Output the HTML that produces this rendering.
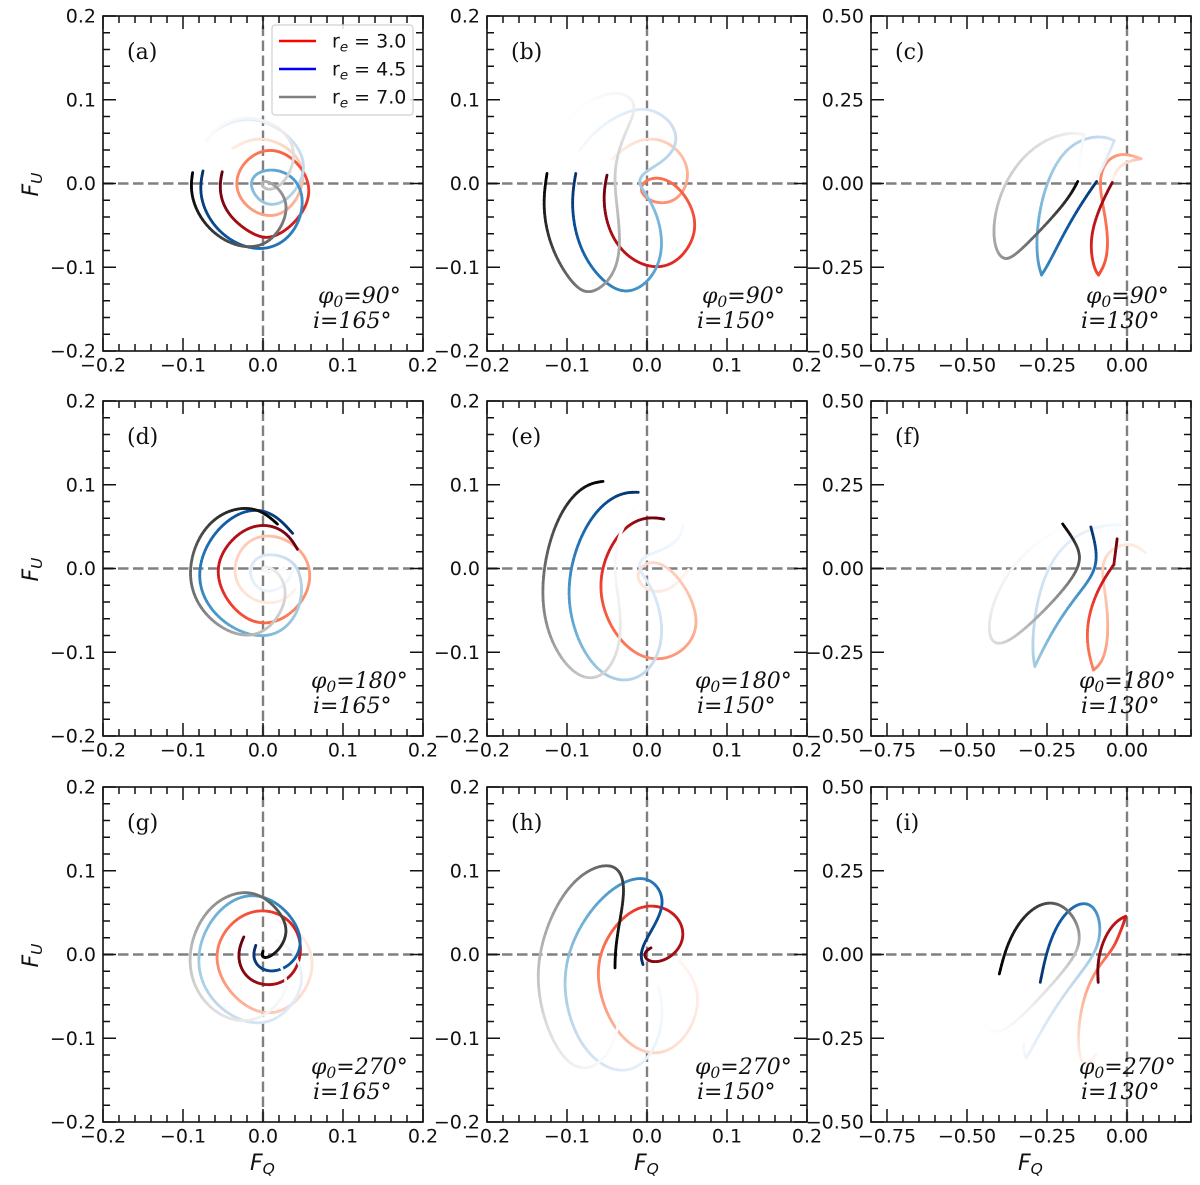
<!DOCTYPE html>
<html lang="en">
<head>
<meta charset="utf-8">
<title>Polarization loops FQ versus FU</title>
<style>
html,body{margin:0;padding:0;background:#fff;width:1200px;height:1185px;overflow:hidden}
svg{display:block}
text{fill:#111}
.tick{font-family:"DejaVu Sans","Liberation Sans",sans-serif;font-size:19px}
.axis{font-family:"DejaVu Sans","Liberation Sans",sans-serif;font-size:22px;font-style:italic}
.tag{font-family:"DejaVu Serif","Liberation Serif",serif;font-size:22px}
.note{font-family:"DejaVu Serif","Liberation Serif",serif;font-size:22px;font-style:italic}
.leg{font-family:"DejaVu Sans","Liberation Sans",sans-serif;font-size:19px}
</style>
</head>
<body>
<svg id="chart" xmlns="http://www.w3.org/2000/svg" width="1200" height="1185" viewBox="0 0 1200 1185"></svg>
<script>
// Each point: [F_Q, F_U, colormap position, optional 1 = sharp turn]
const a_re30=[[-.051,.014,1],[-.054,-.004,.97],[-.049,-.027,.93],[-.033,-.047,.88],[-.008,-.061,.82],[.005,-.064,.8],[.025,-.058,.76],[.046,-.039,.7],[.057,-.016,.64],[.055,.004,.6],[.042,.026,.55],[.021,.037,.51],[.005,.039,.48],[-.016,.032,.45],[-.031,.012,.41],[-.032,-.008,.38],[-.020,-.027,.35],[.005,-.040,.32],[.027,-.033,.29],[.044,-.016,.26],[.049,.008,.23],[.046,.024,.2],[.030,.044,.16],[0,.054,.12],[-.020,.050,.09],[-.038,.042,.05]];
const a_re45=[[-.075,.015,1],[-.079,-.008,.96],[-.070,-.035,.92],[-.049,-.063,.86],[-.012,-.078,.78],[.021,-.073,.73],[.044,-.047,.68],[.049,-.016,.63],[.038,.008,.58],[.009,.018,.52],[-.012,.008,.47],[-.014,-.004,.44],[-.004,-.020,.4],[.013,-.026,.36],[.034,-.016,.32],[.048,.008,.28],[.050,.028,.25],[.034,.056,.2],[0,.074,.14],[-.029,.077,.09],[-.062,.062,.04],[-.070,.052,.01]];
const a_re70=[[-.088,.013,1],[-.090,-.008,.97],[-.081,-.035,.9],[-.058,-.063,.8],[-.020,-.077,.72],[.009,-.069,.66],[.025,-.043,.6],[.030,-.023,.55],[.017,-.004,.48],[.002,.004,.42],[-.002,-.002,.38],[.007,-.008,.34],[.023,-.002,.3],[.036,.020,.25],[.038,.044,.2],[.023,.064,.14],[-.004,.076,.09],[-.029,.078,.06],[-.054,.070,.03],[-.072,.054,.01]];

const b_re30=[[-.050,.010,1],[-.054,-.012,.97],[-.051,-.043,.9],[-.038,-.071,.84],[-.017,-.091,.78],[.012,-.100,.72],[.037,-.093,.67],[.056,-.067,.62],[.060,-.045,.58],[.049,-.016,.54],[.029,.002,.5],[.010,.007,.47],[-.005,0,.44],[-.007,-.010,.42],[.004,-.020,.4],[.022,-.023,.37],[.041,-.016,.34],[.052,.008,.29],[.045,.032,.24],[.025,.048,.19],[.004,.053,.14],[-.021,.048,.1],[-.044,.029,.01]];
const b_re45=[[-.089,.012,1],[-.094,-.020,.95],[-.088,-.067,.85],[-.067,-.103,.75],[-.042,-.123,.68],[-.025,-.128,.64],[0,-.119,.58],[.016,-.091,.52],[.018,-.063,.48],[.010,-.031,.44],[-.002,-.012,.4],[-.010,0,.37],[-.005,.012,.34],[.012,.022,.31],[.031,.036,.28],[.037,.056,.24],[.027,.076,.2],[.004,.087,.16],[-.013,.088,.13],[-.042,.078,.08],[-.067,.060,.04],[-.084,.040,.01]];
const b_re70=[[-.125,.012,1],[-.130,-.023,.92],[-.123,-.067,.82],[-.104,-.103,.7],[-.084,-.125,.6],[-.071,-.129,.55],[-.046,-.115,.48],[-.036,-.087,.44],[-.034,-.055,.4],[-.040,-.008,.33],[-.040,.020,.28],[-.030,.056,.22],[-.017,.080,.16],[-.016,.096,.12],[-.030,.106,.08],[-.042,.107,.06],[-.067,.102,.03],[-.092,.084,.015],[-.109,.066,.005],[-.120,.048,0]];

const c_re30=[[-.046,.003,.95],[-.074,-.049,.87],[-.105,-.128,.78],[-.114,-.188,.7],[-.100,-.258,.62],[-.089,-.273,.58,1],[-.069,-.238,.55],[-.058,-.178,.5],[-.069,-.089,.47],[-.084,-.019,.43],[-.079,.041,.4],[-.043,.081,.36],[-.001,.087,.32],[.044,.074,.24,1],[-.001,.066,.14],[-.032,.041,.08],[-.045,.011,.01]];
const c_re45=[[-.095,.006,1],[-.126,-.039,.92],[-.189,-.128,.84],[-.241,-.238,.72],[-.267,-.273,.62,1],[-.280,-.228,.56],[-.280,-.128,.5],[-.256,-.019,.42],[-.209,.081,.34],[-.147,.128,.3],[-.074,.140,.24],[-.040,.128,.18,1],[-.064,.071,.1],[-.093,.021,.01]];
const c_re70=[[-.154,.006,1],[-.183,-.049,.85],[-.272,-.138,.7],[-.345,-.208,.58],[-.376,-.223,.52],[-.407,-.198,.46],[-.416,-.128,.42],[-.392,-.019,.32],[-.324,.081,.26],[-.241,.135,.2],[-.168,.150,.13],[-.134,.145,.08,1],[-.147,.081,.03],[-.152,.031,.005]];

const d_re30=[[.043,.023,1],[.030,.043,.96],[0,.053,.9],[-.029,.043,.84],[-.052,.015,.78],[-.056,-.009,.72],[-.043,-.041,.62],[-.016,-.061,.55],[.009,-.065,.48],[.042,-.049,.42],[.059,-.017,.36],[.054,.011,.32],[.034,.031,.27],[.007,.039,.22],[-.020,.033,.19],[-.034,.007,.16],[-.033,-.013,.13],[-.020,-.033,.1],[.007,-.043,.07],[.030,-.035,.04],[.040,-.025,.01]];
const d_re45=[[.037,.042,1],[.017,.062,.95],[-.008,.070,.9],[-.037,.062,.84],[-.066,.035,.78],[-.079,-.001,.72],[-.074,-.033,.65],[-.049,-.065,.56],[-.008,-.081,.48],[.021,-.075,.42],[.042,-.053,.37],[.049,-.025,.32],[.042,-.001,.27],[.034,.009,.22],[.009,.018,.17],[-.010,.011,.14],[-.016,-.005,.11],[-.008,-.023,.08],[.013,-.029,.05],[.034,-.013,.03],[.038,.003,.01]];
const d_re70=[[.018,.053,1],[0,.067,.95],[-.022,.072,.9],[-.054,.064,.84],[-.079,.039,.76],[-.091,-.001,.68],[-.085,-.033,.62],[-.062,-.065,.52],[-.025,-.080,.42],[0,-.075,.36],[.021,-.053,.3],[.029,-.029,.25],[.021,-.007,.18],[.005,.003,.12],[-.002,-.001,.08],[.009,-.007,.05],[.030,.001,.02]];

const e_re30=[[.021,.059,1],[.004,.061,.97],[-.017,.055,.9],[-.036,.039,.78],[-.052,.011,.7],[-.058,-.021,.6],[-.052,-.053,.54],[-.034,-.085,.48],[-.009,-.103,.42],[.012,-.107,.38],[.037,-.103,.34],[.056,-.083,.3],[.062,-.061,.26],[.052,-.029,.22],[.029,-.001,.18],[.010,.007,.15],[-.005,.003,.13],[-.012,-.009,.11],[-.005,-.021,.09],[.014,-.029,.07],[.035,-.021,.04],[.052,-.001,.01]];
const e_re45=[[-.011,.091,1],[-.030,.090,.96],[-.054,.076,.88],[-.079,.047,.78],[-.096,-.005,.66],[-.096,-.045,.56],[-.084,-.089,.46],[-.059,-.123,.38],[-.030,-.133,.32],[0,-.125,.26],[.016,-.093,.22],[.018,-.065,.19],[.010,-.033,.15],[0,-.013,.13],[-.011,-.001,.11],[-.005,.013,.08],[.008,.019,.06],[.033,.027,.04],[.043,.043,.02],[.045,.053,.005]];
const e_re70=[[-.055,.104,1],[-.073,.100,.95],[-.096,.082,.85],[-.119,.043,.75],[-.131,-.021,.62],[-.125,-.069,.52],[-.104,-.111,.4],[-.075,-.133,.32],[-.050,-.121,.26],[-.036,-.093,.2],[-.032,-.057,.14],[-.040,-.013,.09],[-.040,.019,.06],[-.030,.051,.03],[-.013,.074,.01],[-.005,.086,0]];

const f_re30=[[-.031,.087,1],[-.041,.012,.9,1],[-.074,-.038,.72],[-.116,-.122,.6],[-.128,-.222,.5],[-.105,-.303,.42,1],[-.074,-.277,.34],[-.055,-.182,.28],[-.069,-.063,.2],[-.079,-.003,.17],[-.058,.052,.13],[-.001,.072,.09],[.030,.065,.06],[.058,.047,.03]];
const f_re45=[[-.113,.124,1],[-.090,.027,.85],[-.116,-.033,.66],[-.189,-.112,.55],[-.251,-.222,.45],[-.288,-.292,.36,1],[-.296,-.242,.3],[-.282,-.102,.22],[-.241,.007,.16],[-.178,.087,.1],[-.084,.126,.05],[-.017,.131,.01]];
const f_re70=[[-.201,.133,1],[-.157,.067,.8],[-.149,.017,.72],[-.189,-.053,.56],[-.293,-.152,.42],[-.386,-.232,.28],[-.426,-.202,.2],[-.423,-.122,.14],[-.366,-.003,.08],[-.272,.087,.03],[-.157,.144,.005]];

const g_re30=[[-.024,.021,1],[-.031,.004,.97],[-.027,-.020,.94],[-.008,-.034,.9],[.013,-.035,.87],[.032,-.028,.84],[.045,-.008,.8],[.046,.020,.74],[.030,.043,.68],[0,.053,.6],[-.029,.045,.54],[-.052,.020,.47],[-.058,-.008,.4],[-.045,-.040,.33],[-.016,-.064,.26],[.013,-.070,.2],[.042,-.056,.15],[.061,-.024,.11],[.059,.004,.08],[.042,.031,.04],[.017,.041,.01]];
const g_re45=[[-.009,.011,1],[-.013,-.002,.97],[-.004,-.016,.94],[.013,-.020,.9],[.034,-.012,.85],[.046,.008,.8],[.044,.031,.74],[.021,.059,.68],[-.008,.070,.58],[-.037,.065,.52],[-.066,.039,.46],[-.081,0,.38],[-.074,-.036,.32],[-.049,-.068,.25],[-.008,-.083,.18],[.021,-.074,.14],[.046,-.044,.1],[.048,-.020,.07],[.034,.008,.04],[.017,.017,.01]];
const g_re70=[[0,.004,1],[-.002,-.002,.97],[.007,-.004,.94],[.021,.008,.88],[.030,.027,.82],[.023,.047,.76],[0,.068,.66],[-.022,.074,.6],[-.054,.065,.52],[-.079,.039,.46],[-.093,-.004,.36],[-.083,-.040,.28],[-.060,-.068,.22],[-.025,-.081,.16],[.005,-.070,.1],[.025,-.048,.06],[.030,-.028,.03],[.017,-.006,.01]];

const h_re30=[[.005,.008,1],[-.002,.004,.98],[-.002,-.006,.96],[.016,-.010,.92],[.037,.004,.86],[.046,.023,.82],[.037,.047,.77],[.012,.057,.7],[-.013,.055,.63],[-.038,.035,.55],[-.057,.004,.47],[-.061,-.028,.4],[-.052,-.064,.33],[-.034,-.096,.25],[-.009,-.112,.2],[.012,-.117,.15],[.041,-.108,.11],[.062,-.072,.07],[.062,-.044,.04],[.054,-.024,.02],[.041,-.008,.005]];
const h_re45=[[-.005,-.012,1],[-.009,.002,.97],[0,.020,.93],[.016,.047,.86],[.020,.067,.8],[.006,.087,.72],[-.013,.090,.66],[-.042,.079,.58],[-.075,.047,.5],[-.098,0,.42],[-.102,-.040,.35],[-.092,-.088,.26],[-.067,-.124,.18],[-.034,-.139,.12],[-.005,-.130,.08],[.014,-.100,.05],[.020,-.064,.02],[.014,-.038,.005]];
const h_re70=[[-.040,-.016,1],[-.040,.012,.97],[-.032,.051,.9],[-.028,.083,.82],[-.038,.101,.74],[-.052,.105,.68],[-.079,.097,.6],[-.109,.067,.5],[-.129,.016,.42],[-.137,-.028,.34],[-.127,-.080,.24],[-.104,-.124,.15],[-.079,-.136,.09],[-.054,-.124,.05],[-.038,-.096,.02],[-.032,-.060,.005]];

const i_re30=[[-.090,-.083,1],[-.092,-.031,.96],[-.074,.049,.88],[-.032,.099,.8],[-.004,.114,.74,1],[-.011,.089,.68],[-.032,.049,.62],[-.043,.014,.55],[-.084,-.031,.42],[-.126,-.100,.3],[-.152,-.210,.18],[-.147,-.309,.06],[-.126,-.329,.02],[-.097,-.298,.005]];
const i_re45=[[-.271,-.083,1],[-.246,.029,.9],[-.199,.118,.82],[-.136,.156,.72],[-.095,.128,.62],[-.086,.059,.5],[-.105,-.006,.35],[-.168,-.081,.26],[-.241,-.180,.16],[-.314,-.309,.05,1],[-.324,-.290,.02],[-.322,-.265,.005]];
const i_re70=[[-.399,-.058,1],[-.371,.049,.93],[-.303,.128,.84],[-.241,.156,.74],[-.178,.128,.62],[-.147,.049,.46],[-.168,-.011,.34],[-.251,-.100,.2],[-.345,-.200,.08],[-.413,-.240,.03],[-.449,-.205,.005]];

const curvesByPanel=[[a_re30,a_re45,a_re70],[b_re30,b_re45,b_re70],[c_re30,c_re45,c_re70],[d_re30,d_re45,d_re70],[e_re30,e_re45,e_re70],[f_re30,f_re45,f_re70],[g_re30,g_re45,g_re70],[h_re30,h_re45,h_re70],[i_re30,i_re45,i_re70]];
const panelTags=["(a)","(b)","(c)","(d)","(e)","(f)","(g)","(h)","(i)"];
const phaseLabels=["90","90","90","180","180","180","270","270","270"];
const inclinationLabels=["165","150","130","165","150","130","165","150","130"];
const seriesNames=["re-3-0","re-4-5","re-7-0"];
const legendValues=["3.0","4.5","7.0"];
const narrowXTicks=["−0.2","−0.1","0.0","0.1","0.2"];
const narrowYTicks=["−0.2","−0.1","0.0","0.1","0.2"];
const wideXTicks=["−0.75","−0.50","−0.25","0.00"];
const wideYTicks=["−0.50","−0.25","0.00","0.25","0.50"];

const REDS=["#fff5f0","#fee0d2","#fcbba1","#fc9272","#fb6a4a","#ef3b2c","#cb181d","#a50f15","#67000d"];
const BLUES=["#f7fbff","#deebf7","#c6dbef","#9ecae1","#6baed6","#4292c6","#2171b5","#08519c","#08306b"];
const GREYS=["#ffffff","#f0f0f0","#d9d9d9","#bdbdbd","#969696","#737373","#525252","#252525","#000000"];
const RAMPS=[REDS,BLUES,GREYS];
const LEGEND_COLORS=["#ff0000","#0000ff","#808080"];

const NS="http://www.w3.org/2000/svg";
const root=document.getElementById("chart");
function make(tag,attrs,parent){
  const n=document.createElementNS(NS,tag);
  for(const k in attrs){n.setAttribute(k,attrs[k]);}
  parent.appendChild(n);
  return n;
}
function hex(c){return [1,3,5].map(i=>parseInt(c.substr(i,2),16));}
function ramp(stops,t){
  const v=Math.max(0,Math.min(1,t))*(stops.length-1);
  const i=Math.min(stops.length-2,Math.floor(v));
  const f=v-i;
  const a=hex(stops[i]),b=hex(stops[i+1]);
  return "rgb("+a.map((x,k)=>Math.round(x+(b[k]-x)*f)).join(",")+")";
}
function catmull(p0,p1,p2,p3,t){
  return 0.5*((2*p1)+(-p0+p2)*t+(2*p0-5*p1+4*p2-p3)*t*t+(-p0+3*p1-3*p2+p3)*t*t*t);
}
function gaussian(v,sigma){
  const n=v.length,r=Math.ceil(sigma*3),out=new Array(n);
  const at=i=>{
    if(i<0){return 2*v[0]-v[Math.min(n-1,-i)];}
    if(i>=n){return 2*v[n-1]-v[Math.max(0,2*(n-1)-i)];}
    return v[i];
  };
  for(let i=0;i<n;i++){
    let sum=0,w=0;
    for(let k=-r;k<=r;k++){
      const g=Math.exp(-k*k/(2*sigma*sigma));
      sum+=g*at(i+k);w+=g;
    }
    out[i]=sum/w;
  }
  return out;
}
function fairen(v,sigma){
  const g1=gaussian(v,sigma),g2=gaussian(v,sigma*Math.SQRT2);
  return v.map((_,i)=>2*g1[i]-g2[i]);
}
const STEPS=8;
function densePiece(pts){
  const q=[],u=[],s=[];
  for(let k=0;k<pts.length-1;k++){
    const a=pts[Math.max(0,k-1)],b=pts[k],c=pts[k+1],d=pts[Math.min(pts.length-1,k+2)];
    for(let j=0;j<STEPS;j++){
      const t=j/STEPS;
      q.push(catmull(a[0],b[0],c[0],d[0],t));
      u.push(catmull(a[1],b[1],c[1],d[1],t));
      s.push(b[2]+(c[2]-b[2])*t);
    }
  }
  const last=pts[pts.length-1];
  q.push(last[0]);u.push(last[1]);s.push(last[2]);
  const sigma=0.85*STEPS;
  return {q:fairen(q,sigma),u:fairen(u,sigma),s:s};
}
function densePath(pts){
  const out={q:[],u:[],s:[]};
  let start=0;
  for(let k=1;k<pts.length;k++){
    if(pts[k][3]===1||k===pts.length-1){
      const piece=densePiece(pts.slice(start,k+1));
      out.q.push(...piece.q);out.u.push(...piece.u);out.s.push(...piece.s);
      start=k;
    }
  }
  return out;
}
function drawPanel(index){
  const col=index%3,row=Math.floor(index/3);
  const left=[103,487,871][col],top=[16,401,787][row];
  const W=320,H=335;
  const wide=col===2;
  const xMin=wide?-0.8:-0.2,xMax=0.2;
  const yMin=wide?-0.5:-0.2,yMax=wide?0.5:0.2;
  const sx=v=>left+(v-xMin)/(xMax-xMin)*W;
  const sy=v=>top+H-(v-yMin)/(yMax-yMin)*H;
  const g=make("g",{},root);
  
  

  const hz=make("line",{x1:left,x2:left+W,y1:sy(0),y2:sy(0),stroke:"#808080","stroke-width":2.4,"stroke-dasharray":"10.5 4.5"},g);
  
  
  const vt=make("line",{x1:sx(0),x2:sx(0),y1:top+H,y2:top,stroke:"#808080","stroke-width":2.4,"stroke-dasharray":"10.5 4.5"},g);
  
  

  curvesByPanel[index].forEach((pts,s)=>{
    const cg=make("g",{fill:"none","stroke-width":2.8,"stroke-linecap":"round"},g);
    
    
    const path=densePath(pts);
    for(let k=path.q.length-2;k>=0;k--){
      const seg=make("line",{
        x1:sx(path.q[k]).toFixed(2),
        y1:sy(path.u[k]).toFixed(2),
        x2:sx(path.q[k+1]).toFixed(2),
        y2:sy(path.u[k+1]).toFixed(2),
        stroke:ramp(RAMPS[s],(path.s[k]+path.s[k+1])/2)
      },cg);
      
      
    }
  });

  const tg=make("g",{stroke:"#111","stroke-width":1.5},g);
  
  
  const xStep=wide?0.05:0.02,yStep=wide?0.05:0.02,xEvery=5,yEvery=5;
  const nx=Math.round((xMax-xMin)/xStep),ny=Math.round((yMax-yMin)/yStep);
  const xOffset=wide?1:0;
  for(let k=0;k<=nx;k++){
    const x=sx(xMin+k*xStep);
    const len=((k-xOffset)%xEvery===0)?13:7;
    make("line",{x1:x,x2:x,y1:top+H,y2:top+H-len},tg);
    make("line",{x1:x,x2:x,y1:top,y2:top+len},tg);
  }
  for(let k=0;k<=ny;k++){
    const y=sy(yMin+k*yStep);
    const len=(k%yEvery===0)?13:7;
    make("line",{x1:left,x2:left+len,y1:y,y2:y},tg);
    make("line",{x1:left+W,x2:left+W-len,y1:y,y2:y},tg);
  }
  const frame=make("rect",{x:left,y:top,width:W,height:H,fill:"none",stroke:"#111","stroke-width":1.6},g);
  
  

  const xLabels=wide?wideXTicks:narrowXTicks;
  xLabels.forEach((lab,k)=>{
    const v=wide?-0.75+k*0.25:-0.2+k*0.1;
    const t=make("text",{x:sx(v),y:top+H+20.5,"text-anchor":"middle",class:"tick"},g);
    
    
    t.textContent=lab;
  });
  const yLabels=wide?wideYTicks:narrowYTicks;
  yLabels.forEach((lab,k)=>{
    const v=wide?-0.5+k*0.25:-0.2+k*0.1;
    const t=make("text",{x:left-7,y:sy(v)+6.5,"text-anchor":"end",class:"tick"},g);
    
    
    t.textContent=lab;
  });

  const tag=make("text",{x:left+24,y:top+43,class:"tag"},g);
  
  
  tag.textContent=panelTags[index];

  const phi=phaseLabels[index];
  const note1=make("text",{x:left+(phi==="90"?215:208),y:top+287,class:"note"},g);
  
  
  note1.appendChild(document.createTextNode("φ"));
  const sub=make("tspan",{"font-size":"15.5","dy":"4"},note1);
  sub.textContent="0";
  const rest=make("tspan",{"dy":"-4"},note1);
  rest.textContent="="+phi+"°";
  const note2=make("text",{x:left+210,y:top+312,class:"note"},g);
  
  
  note2.textContent="i="+inclinationLabels[index]+"°";

  if(row===2){
    const fq=make("text",{x:left+147,y:top+H+48,class:"axis"},g);
    
    
    fq.appendChild(document.createTextNode("F"));
    const q=make("tspan",{"font-size":"15.5",dy:"4"},fq);
    q.textContent="Q";
  }
  if(col===0){
    const yc=sy(0);
    const fu=make("text",{x:38,y:yc+13,class:"axis",transform:"rotate(-90 38 "+(yc+13)+")"},g);
    
    
    fu.appendChild(document.createTextNode("F"));
    const u=make("tspan",{"font-size":"15.5",dy:"4"},fu);
    u.textContent="U";
  }
}
function drawLegend(){
  const g=make("g",{},root);
  
  
  const box=make("rect",{x:272,y:25,width:141,height:90,rx:3,fill:"#fff","fill-opacity":0.85,stroke:"#d0d0d0","stroke-width":1.2},g);
  
  
  legendValues.forEach((v,k)=>{
    const y=41+k*28;
    const ln=make("line",{x1:279,x2:316,y1:y,y2:y,stroke:LEGEND_COLORS[k],"stroke-width":2.6},g);
    
    
    const t=make("text",{x:332,y:y+6.5,class:"leg"},g);
    
    
    t.appendChild(document.createTextNode("r"));
    const e=make("tspan",{"font-size":"13.5",dy:"4","font-style":"italic"},t);
    e.textContent="e";
    const r=make("tspan",{dy:"-4"},t);
    r.textContent=" = "+v;
  });
}
curvesByPanel.forEach((c,i)=>drawPanel(i));
drawLegend();
</script>
</body>
</html>
